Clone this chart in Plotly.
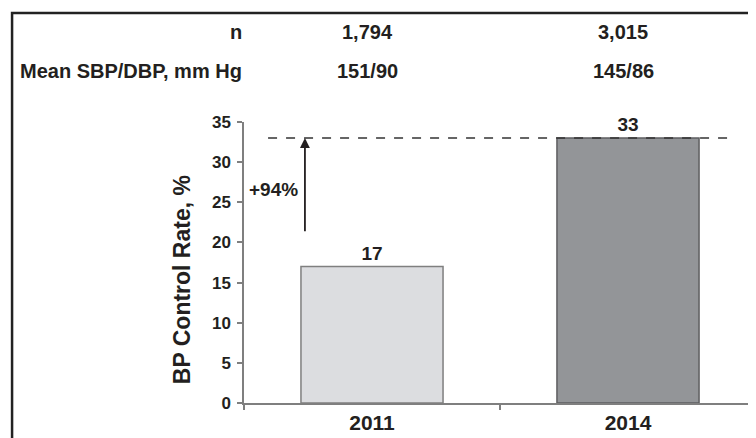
import plotly.graph_objects as go

# values
years = ["2011", "2014"]
control_rate = [17, 33]
n_patients = ["1,794", "3,015"]
mean_bp = ["151/90", "145/86"]
y_ticks = [0, 5, 10, 15, 20, 25, 30, 35]

FONT = "Liberation Sans, Arial, sans-serif"
INK = "#231f20"
AXIS = "#7f7f7f"

change = round((control_rate[1] - control_rate[0]) / control_rate[0] * 100)

fig = go.Figure()
fig.add_trace(
    go.Bar(
        x=years,
        y=control_rate,
        width=0.555,
        marker=dict(color=["#dcdde0", "#939598"], line=dict(color=["#7f7f7f", "#5e5e60"], width=1.5)),
        text=[str(v) for v in control_rate],
        textposition="outside",
        textfont=dict(family=FONT, size=19, color=INK, weight="bold"),
        cliponaxis=False,
        hoverinfo="skip",
    )
)

# little table above the chart (paper coords, plot area is 512 x 281 px)
ROW_N = 1.320
ROW_BP = 1.180
annotations = [
    dict(text="n", x=0, xref="paper", xanchor="right", y=ROW_N, yref="paper"),
    dict(text="Mean SBP/DBP, mm Hg", x=0, xref="paper", xanchor="right", y=ROW_BP, yref="paper"),
]
# category index, not the year string (a "2011" string gets read as a number)
for i, (n, bp) in enumerate(zip(n_patients, mean_bp)):
    annotations.append(dict(text=n, x=i, xref="x", xanchor="center", xshift=-5, y=ROW_N, yref="paper"))
    annotations.append(dict(text=bp, x=i, xref="x", xanchor="center", xshift=-5, y=ROW_BP, yref="paper"))
for a in annotations:
    a.update(showarrow=False, yanchor="middle", font=dict(family=FONT, size=20, color=INK, weight="bold"))

# y title placed by hand, it sits a bit low in the original
annotations.append(
    dict(
        text="BP Control Rate, %", textangle=-90, x=-0.121, xref="paper", xanchor="center",
        y=15.3, yref="y", yanchor="middle",
        showarrow=False, font=dict(family=FONT, size=23, color=INK, weight="bold"),
    )
)
# increase arrow and label
annotations.append(
    dict(
        text="", x=-0.262, y=control_rate[1], xref="x", yref="y",
        ax=-0.262, ay=21.2, axref="x", ayref="y",
        showarrow=True, arrowhead=2, arrowsize=1.1, arrowwidth=1.8, arrowcolor=INK,
    )
)
annotations.append(
    dict(
        text=f"+{change}%", x=0.057, xref="paper", xanchor="center", y=26.6, yref="y", yanchor="middle",
        showarrow=False, font=dict(family=FONT, size=19, color=INK, weight="bold"),
    )
)

# page body keeps an 8px margin, so the figure is 8px smaller than the window
fig.update_layout(
    width=748,
    height=430,
    margin=dict(l=236, r=0, t=114, b=35),
    paper_bgcolor="white",
    plot_bgcolor="white",
    showlegend=False,
    annotations=annotations,
    shapes=[
        dict(type="line", xref="paper", yref="y", x0=0.047, x1=0.955, y0=control_rate[1], y1=control_rate[1],
             line=dict(color="#333333", width=1.5, dash="dash")),
        # outer frame; right and bottom edges fall outside the picture
        dict(type="rect", xref="paper", yref="paper", x0=-0.453, x1=1.2, y0=-0.4, y1=1.388,
             line=dict(color="#222222", width=2.5), layer="below"),
    ],
)
fig.update_xaxes(
    type="category",
    range=[-0.5, 1.5],
    showline=True, linecolor=AXIS, linewidth=1.5,
    ticks="outside", tickson="boundaries", ticklen=5, tickcolor=AXIS, tickwidth=1.5,
    tickfont=dict(family=FONT, size=21, color=INK, weight="bold"),
    showgrid=False, zeroline=False,
)
fig.update_yaxes(
    range=[0, 35],
    tickvals=y_ticks,
    showline=True, linecolor=AXIS, linewidth=1.5,
    ticks="outside", ticklen=5, tickcolor=AXIS, tickwidth=1.5,
    ticklabelstandoff=3,
    tickfont=dict(family=FONT, size=17, color=INK, weight="bold"),
    showgrid=False, zeroline=False,
)

fig.write_html("out.html")
